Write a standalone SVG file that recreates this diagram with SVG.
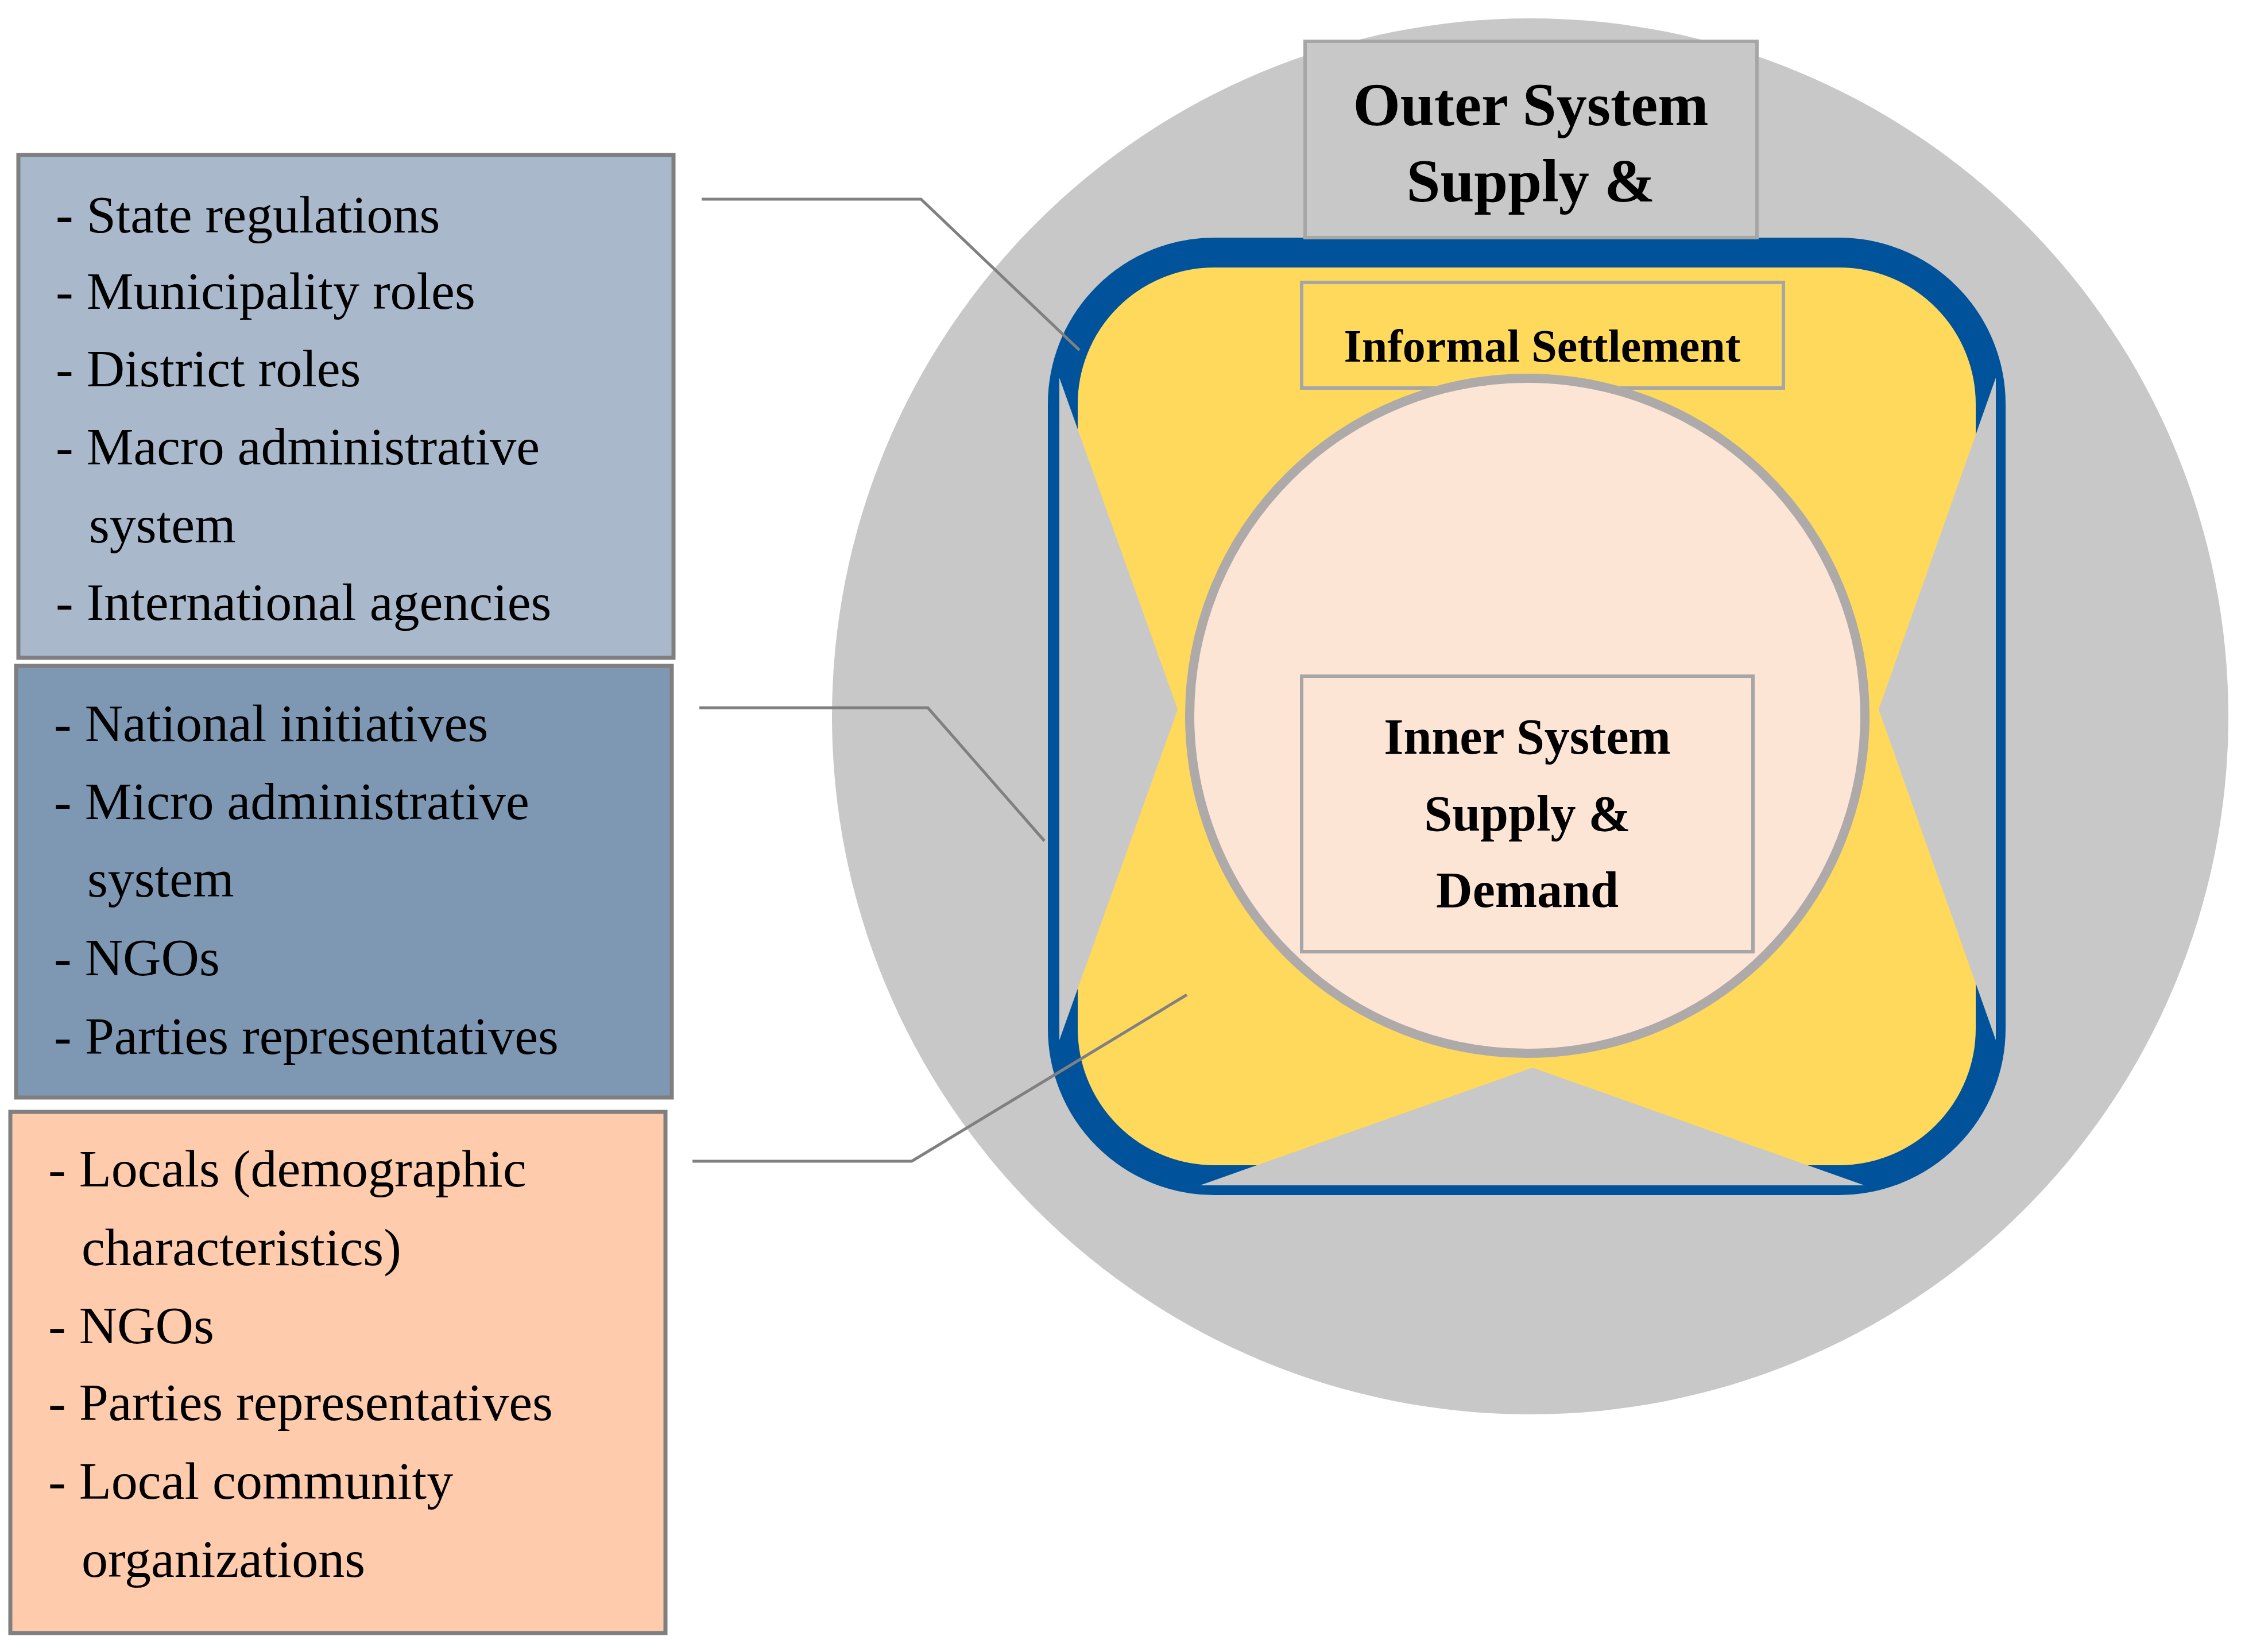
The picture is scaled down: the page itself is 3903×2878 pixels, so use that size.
<svg xmlns="http://www.w3.org/2000/svg" width="3903" height="2878" viewBox="0 0 3903 2878">
<style>
.lt{font-family:"Liberation Serif","Times New Roman",serif;font-size:92px;fill:#000}
.bt{font-family:"Liberation Serif","Times New Roman",serif;font-weight:bold;fill:#000;text-anchor:middle}
.lbox{stroke:#7f7f7f;stroke-width:7}
.gbox{stroke:#a6a6a6;stroke-width:6}
.tri{fill:#c8c8c8}
.conn{fill:none;stroke:#808080;stroke-width:5}
</style>
<rect width="3903" height="2878" fill="#ffffff"/>
<g id="outer-system">
<circle cx="2665" cy="1248" r="1216" fill="#c8c8c8"/>
</g>
<g id="informal-settlement-frame">
<rect x="1851" y="440" width="1616" height="1616" rx="264" ry="264" fill="#fed95c" stroke="#00539b" stroke-width="52"/>
<polygon class="tri" points="1845,658 2051,1236 1845,1812"/>
<polygon class="tri" points="3476,658 3272,1236 3476,1812"/>
<polygon class="tri" points="2090,2065 2669,1860 3247,2065"/>
</g>
<g id="outer-label">
<rect class="gbox" x="2273" y="72" width="787" height="342" fill="#c8c8c8"/>
<text class="bt" font-size="106" x="2666" y="218">Outer System</text>
<text class="bt" font-size="106" x="2666" y="351">Supply &amp;</text>
</g>
<g id="informal-label">
<rect class="gbox" x="2267" y="492" width="839" height="184" fill="#fed95c"/>
<text class="bt" font-size="80" x="2686" y="630">Informal Settlement</text>
</g>
<g id="inner-system">
<circle cx="2660" cy="1247" r="588" fill="#fde5d6" stroke="#aeaaaa" stroke-width="16"/>
<rect class="gbox" x="2267" y="1178" width="786" height="480" fill="#fde5d6"/>
<text class="bt" font-size="88" x="2660" y="1313">Inner System</text>
<text class="bt" font-size="88" x="2660" y="1447">Supply &amp;</text>
<text class="bt" font-size="88" x="2660" y="1580">Demand</text>
</g>
<g id="macro-actors">
<rect class="lbox" x="32" y="270" width="1141" height="876" fill="#a9b9cb"/>
<text class="lt" x="97" y="405"><tspan font-weight="bold">-</tspan> State regulations</text>
<text class="lt" x="97" y="538">- Municipality roles</text>
<text class="lt" x="97" y="673">- District roles</text>
<text class="lt" x="97" y="809">- Macro administrative</text>
<text class="lt" x="155" y="945">system</text>
<text class="lt" x="97" y="1080">- International agencies</text>
</g>
<g id="micro-actors">
<rect class="lbox" x="28" y="1160" width="1142" height="752" fill="#7e98b3"/>
<text class="lt" x="94" y="1291">- National initiatives</text>
<text class="lt" x="94" y="1427">- Micro administrative</text>
<text class="lt" x="152" y="1562">system</text>
<text class="lt" x="94" y="1699">- NGOs</text>
<text class="lt" x="94" y="1836">- Parties representatives</text>
</g>
<g id="local-actors">
<rect class="lbox" x="18" y="1937" width="1141" height="908" fill="#fecbac"/>
<text class="lt" x="84" y="2067">- Locals (demographic</text>
<text class="lt" x="142" y="2204">characteristics)</text>
<text class="lt" x="84" y="2340">- NGOs</text>
<text class="lt" x="84" y="2474">- Parties representatives</text>
<text class="lt" x="84" y="2611">- Local community</text>
<text class="lt" x="142" y="2747">organizations</text>
</g>
<g id="connectors">
<polyline class="conn" points="1222,347 1604,347 1880,610"/>
<polyline class="conn" points="1218,1233 1616,1233 1819,1465"/>
<polyline class="conn" points="1206,2023 1588,2023 2067,1733"/>
</g>
</svg>
